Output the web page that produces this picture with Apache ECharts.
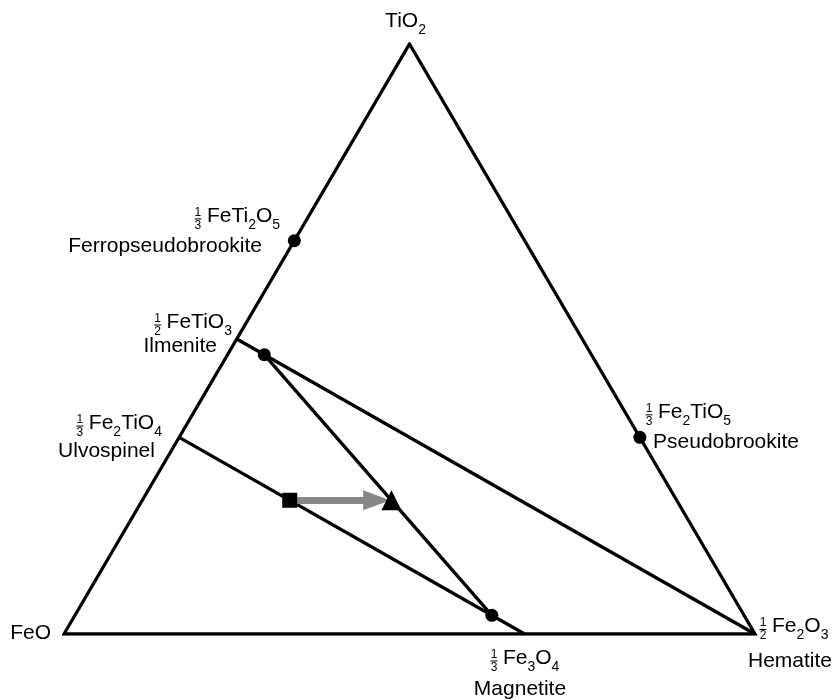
<!DOCTYPE html>
<html><head><meta charset="utf-8">
<script src="https://cdn.jsdelivr.net/npm/echarts@6/dist/echarts.min.js"></script>
<style>html,body{margin:0;padding:0;background:#fff}#c{width:837px;height:700px}</style>
</head><body><div id="c"></div>
<script>
// Ternary compositions as cation fractions [FeO, 1/2 Fe2O3, TiO2]
const vertexLabels = ['FeO', 'TiO_2'];
const vertexFeO   = [1, 0];
const vertexFe2O3 = [0, 0];
const vertexTiO2  = [0, 1];

const phaseNames     = ['Ferropseudobrookite', 'Ilmenite', 'Ulvospinel', 'Pseudobrookite', 'Magnetite', 'Hematite'];
const phaseFractions = [[1, 3], [1, 2], [1, 3], [1, 3], [1, 3], [1, 2]];
const phaseFormulas  = ['FeTi_2O_5', 'FeTiO_3', 'Fe_2TiO_4', 'Fe_2TiO_5', 'Fe_3O_4', 'Fe_2O_3'];
const phaseFeO   = [1/3, 1/2, 2/3, 0,   1/3, 0];
const phaseFe2O3 = [0,   0,   0,   2/3, 2/3, 1];
const phaseTiO2  = [2/3, 1/2, 1/3, 1/3, 0,   0];
const dottedPhases = ['Ferropseudobrookite', 'Pseudobrookite'];

// Positions of the solid-solution points (fraction along each join)
const ilmHemPoint   = 0.053;  // Ilmenite -> Hematite
const uspMtPoint    = 0.905;  // Ulvospinel -> Magnetite
const squarePoint   = 0.32;   // Ulvospinel -> Magnetite
const trianglePoint = 0.559;  // along the tie line
const arrowEnd      = 0.855;  // square -> triangle

// ---------- styles / layout (not data) ----------
const FONT = '"Liberation Sans", Arial, Helvetica, sans-serif';
const MAIN = 21, SUB = 14, FRAC = 12, LH = 32;
const labelLayout = {
  Ferropseudobrookite: {fa: 'right', fx: -14.3, fy: -24.7, na: 'right',  nx: -32.3, ny: 5.3},
  Ilmenite:            {fa: 'right', fx: -4.8,  fy: -17,   na: 'right',  nx: -19.8, ny: 7.5},
  Ulvospinel:          {fa: 'right', fx: -17.2, fy: -14.3, na: 'right',  nx: -24.2, ny: 13.5},
  Pseudobrookite:      {fa: 'left',  fx: 18.2,  fy: -25.5, na: 'left',   nx: 13.2,  ny: 4.5},
  Magnetite:           {fa: 'left',  fx: -21.7, fy: 24,    na: 'center', nx: -4.7,  ny: 55},
  Hematite:            {fa: 'left',  fx: 17,    fy: -7.5,  na: 'center', nx: 35,    ny: 27}
};
const vertexLayout = {
  'FeO':   {a: 'right',  x: -13, y: -1},
  'TiO_2': {a: 'center', x: -4,  y: -23}
};

function comp(name) { const i = phaseNames.indexOf(name); return [phaseFeO[i], phaseFe2O3[i], phaseTiO2[i]]; }
function vcomp(i) { return [vertexFeO[i], vertexFe2O3[i], vertexTiO2[i]]; }
function mix(a, b, t) { return a.map((v, k) => v + (b[k] - v) * t); }
function xy(c) { return [c[1] + c[2] / 2, c[2]]; }

const feo = vcomp(0), tio2 = vcomp(1);
const ilm = comp('Ilmenite'), hem = comp('Hematite'), usp = comp('Ulvospinel'), mt = comp('Magnetite');
const ssIlmHem = mix(ilm, hem, ilmHemPoint);
const ssUspMt  = mix(usp, mt, uspMtPoint);
const squareC  = mix(usp, mt, squarePoint);
const triC     = mix(ssIlmHem, ssUspMt, trianglePoint);
const arrowC   = mix(squareC, triC, arrowEnd);
const bottomMid = mix(feo, hem, 0.5);

const blackLine = {color: '#000', width: 3.3, join: 'miter', cap: 'butt', opacity: 1};
function lineSeries(points, z) {
  return {type: 'line', data: points.map(xy), symbol: 'none', lineStyle: blackLine, silent: true, z: z || 2, animation: false};
}
const markerStyle = {color: '#000', opacity: 1};

const chart = echarts.init(document.getElementById('c'));
chart.setOption({
  animation: false,
  grid: {left: 64, top: 44, width: 691, height: 590},
  xAxis: {type: 'value', min: 0, max: 1, show: false},
  yAxis: {type: 'value', min: 0, max: 1, show: false},
  series: [
    lineSeries([bottomMid, hem, tio2, feo, bottomMid]),
    lineSeries([ilm, hem]),
    lineSeries([usp, mt]),
    lineSeries([ssIlmHem, ssUspMt]),
    {
      type: 'line', data: [], z: 3, silent: true,
      markLine: {
        silent: true, animation: false,
        symbol: ['none', 'triangle'], symbolSize: [20, 27],
        label: {show: false},
        lineStyle: {color: '#868686', width: 7, type: 'solid', opacity: 1},
        emphasis: {disabled: true},
        data: [[{coord: xy(squareC)}, {coord: xy(arrowC)}]]
      }
    },
    {
      type: 'scatter', symbol: 'circle', symbolSize: 13, z: 5, silent: true,
      itemStyle: markerStyle,
      data: dottedPhases.map(p => xy(comp(p))).concat([xy(ssIlmHem), xy(ssUspMt)])
    },
    {type: 'scatter', symbol: 'rect', symbolSize: 15, z: 5, silent: true, itemStyle: markerStyle, data: [xy(squareC)]},
    {type: 'scatter', symbol: 'triangle', symbolSize: 20, z: 5, silent: true, itemStyle: markerStyle, data: [xy(triC)]}
  ]
});

// ---------- labels ----------
const ctx = document.createElement('canvas').getContext('2d');
function parts(f) { return f.split(/_(\d)/).map((p, i) => ({p, sub: i % 2 === 1})).filter(o => o.p); }
function toRich(f) { return parts(f).map(o => (o.sub ? '{s|' : '{t|') + o.p + '}').join(''); }
function width(f) {
  return parts(f).reduce((w, o) => { ctx.font = (o.sub ? SUB : MAIN) + 'px ' + FONT; return w + ctx.measureText(o.p).width; }, 0);
}
const rich = {
  t: {fontSize: MAIN, fontFamily: FONT, fill: '#000', lineHeight: LH, verticalAlign: 'middle'},
  s: {fontSize: SUB, fontFamily: FONT, fill: '#000', lineHeight: SUB, verticalAlign: 'bottom'}
};
function px(c) { return chart.convertToPixel({gridIndex: 0}, xy(c)); }
function formulaText(f, x, y, align) {
  return {type: 'text', x, y, silent: true, z: 10,
    style: {text: toRich(f), rich, align, verticalAlign: 'middle', fill: '#000', fontSize: MAIN, fontFamily: FONT}};
}
function plainText(t, x, y, align) {
  return {type: 'text', x, y, silent: true, z: 10,
    style: {text: t, align, verticalAlign: 'middle', fill: '#000', fontSize: MAIN, fontFamily: FONT}};
}
function fraction(fr, cx, cy) {
  return [
    {type: 'text', x: cx, y: cy - 6.6, silent: true, z: 10, style: {text: String(fr[0]), align: 'center', verticalAlign: 'middle', fill: '#000', fontSize: FRAC, fontFamily: FONT}},
    {type: 'rect', silent: true, z: 10, shape: {x: cx - 3.5, y: cy - 0.5, width: 7, height: 1}, style: {fill: '#000'}},
    {type: 'text', x: cx, y: cy + 6.6, silent: true, z: 10, style: {text: String(fr[1]), align: 'center', verticalAlign: 'middle', fill: '#000', fontSize: FRAC, fontFamily: FONT}}
  ];
}

const graphics = [];
vertexLabels.forEach((v, i) => {
  const p = px(vcomp(i)), L = vertexLayout[v];
  graphics.push(formulaText(v, p[0] + L.x, p[1] + L.y, L.a));
});
phaseNames.forEach((name, i) => {
  const p = px(comp(name)), L = labelLayout[name];
  const fx = p[0] + L.fx, fy = p[1] + L.fy;
  graphics.push(formulaText(phaseFormulas[i], fx, fy, L.fa));
  const left = L.fa === 'right' ? fx - width(phaseFormulas[i]) : fx;
  graphics.push(...fraction(phaseFractions[i], left - 9, fy + 3));
  graphics.push(plainText(name, p[0] + L.nx, p[1] + L.ny, L.na));
});
chart.setOption({graphic: {elements: graphics}});
</script>
</body></html>
